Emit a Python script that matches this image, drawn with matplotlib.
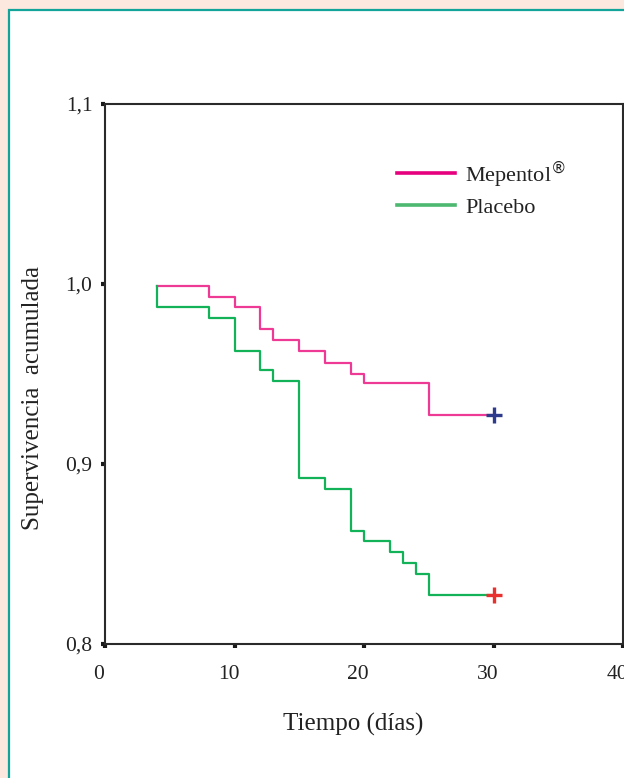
import matplotlib
matplotlib.use("Agg")
import matplotlib.pyplot as plt
import matplotlib.transforms as mtransforms
from matplotlib.patches import Rectangle

# Kaplan-Meier curves
mep_t = [4, 8, 10, 12, 13, 15, 17, 19, 20, 25, 30]
mep_s = [0.999, 0.993, 0.987, 0.975, 0.969, 0.963, 0.956, 0.950, 0.945, 0.927, 0.927]

pla_t = [4, 4, 8, 10, 12, 13, 15, 17, 19, 20, 22, 23, 24, 25, 30]
pla_s = [0.999, 0.987, 0.981, 0.963, 0.952, 0.946, 0.892, 0.886, 0.863, 0.857,
         0.851, 0.845, 0.839, 0.827, 0.827]

series_labels = ['Mepentol$^{®}$', 'Placebo']
xticks = [0, 10, 20, 30, 40]
yticks = [0.8, 0.9, 1.0, 1.1]
yticklabels = ['0,8', '0,9', '1,0', '1,1']

plt.rcParams['font.family'] = ['Liberation Serif', 'DejaVu Serif']

W, H = 624, 778
fig = plt.figure(figsize=(W / 100, H / 100), dpi=100)
fig.patch.set_facecolor('#fce8de')

# white panel with teal border, behind the axes
panel = Rectangle((9 / W, -0.05), 1.1, (H - 10) / H + 0.05,
                  transform=fig.transFigure, facecolor='white',
                  edgecolor='#12a39a', linewidth=1.6, zorder=-5)
fig.add_artist(panel)

ax = fig.add_axes([105 / W, (H - 644) / H, 518 / W, 540 / H])
ax.set_facecolor('white')

pink = '#ee3a94'
green = '#12b358'
ax.step(mep_t, mep_s, where='post', color=pink, lw=1.6, label=series_labels[0])
ax.step(pla_t, pla_s, where='post', color=green, lw=1.6, label=series_labels[1])
ax.plot([mep_t[-1]], [mep_s[-1]], marker='+', color='#2e3a8c', ms=11, mew=2.4, ls='none')
ax.plot([pla_t[-1]], [pla_s[-1]], marker='+', color='#e8312f', ms=11, mew=2.4, ls='none')

ax.set_xlim(0, 40)
ax.set_ylim(0.8, 1.1)
ax.set_xticks(xticks)
ax.set_yticks(yticks)
ax.set_yticklabels(yticklabels)

for s in ax.spines.values():
    s.set_color('#2a2a2a')
    s.set_linewidth(1.5)

ax.tick_params(direction='out', length=3, width=3, color='#1a1a1a',
               labelsize=15.5, labelcolor='#222222')
ax.tick_params(axis='x', pad=12)
ax.tick_params(axis='y', pad=6)
off = mtransforms.ScaledTranslation(-6 / 100, 0, fig.dpi_scale_trans)
for lab in ax.get_xticklabels():
    lab.set_transform(lab.get_transform() + off)

ax.set_xlabel('Tiempo (días)', fontsize=18, color='#222222')
ax.xaxis.set_label_coords((353 - 105) / 518, -(713 - 644) / 540)
ax.set_ylabel('Supervivencia  acumulada', fontsize=18, color='#222222')
ax.yaxis.set_label_coords(-(105 - 44) / 518, (644 - 398) / 540)

leg = ax.legend(loc='upper left', bbox_to_anchor=(0.547, 0.915), frameon=False,
                fontsize=16, handlelength=2.6, handletextpad=0.45,
                labelspacing=0.35, borderaxespad=0)
leg.get_lines()[0].set_color('#e6007e')
leg.get_lines()[1].set_color('#4cb870')
for ln in leg.get_lines():
    ln.set_linewidth(2.6)
for t in leg.get_texts():
    t.set_color('#222222')

fig.savefig('out.png', dpi=100)
